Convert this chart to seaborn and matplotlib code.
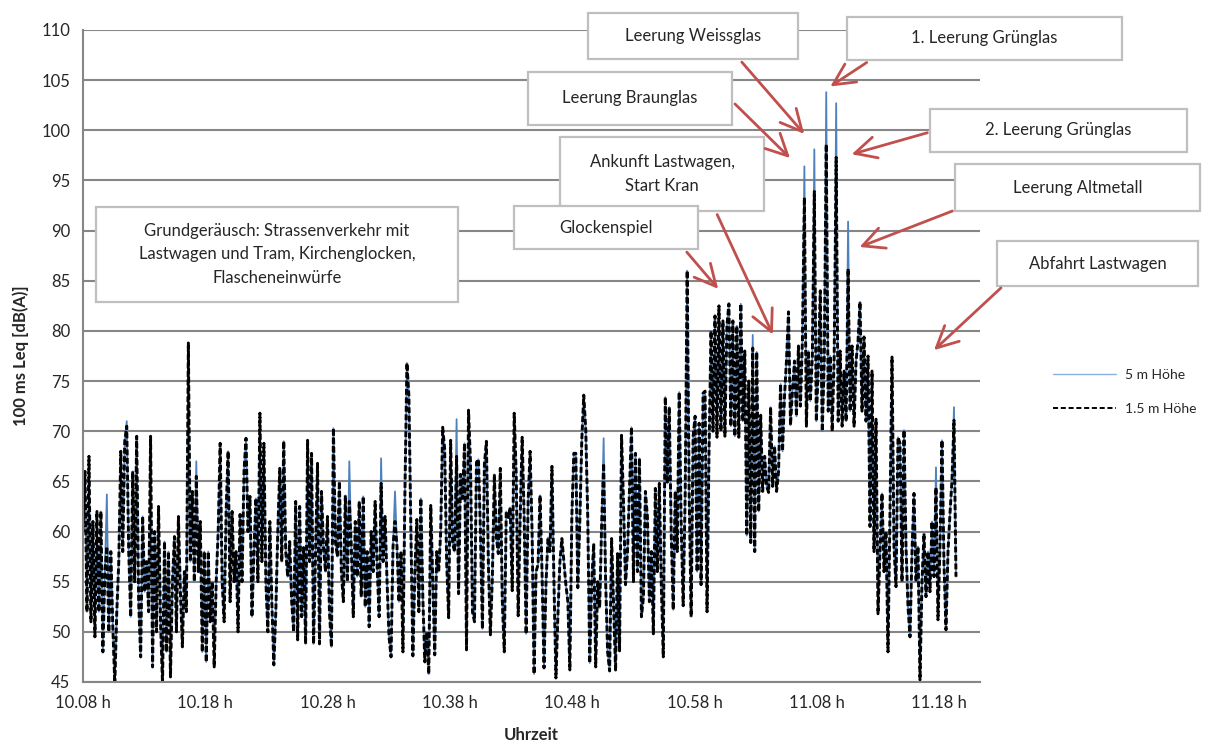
import numpy as np
import matplotlib
matplotlib.use("Agg")
from matplotlib import pyplot as plt
from matplotlib.patches import Rectangle, FancyArrowPatch
import seaborn as sns

grenzen = [8.0, 20.84, 33.51, 46.18, 58.86, 71.53, 79.54]

# 100 ms Leq in 1.5 m Hoehe (dB(A))
pegel_a = [60, 66, 52, 67.5, 51, 61, 49.5, 62, 52, 62, 48, 56, 58.5, 50, 58, 50.5, 44.8, 52, 57, 68,
           58, 69, 70.5, 58, 51.5, 66, 55, 69.5, 53, 47.5, 61.5, 54, 57, 52, 69.5, 46.5, 60, 50, 62.5, 51,
           44.8, 59, 48, 58, 45.5, 55, 59.5, 50, 61.5, 54, 48.5, 56, 52, 78.8, 57, 64, 55, 65.5, 56, 61,
           48, 58, 47, 58, 51, 55, 46.5, 55, 60, 68.8, 55, 51, 62, 68, 53, 62, 55, 58, 50]
pegel_b = [61.7, 55, 66, 69.3, 60, 63.5, 51.5, 58, 63.3, 55, 71.8, 57, 68.8, 55, 50, 61, 53, 46.7, 52, 60,
           66.3, 57, 69, 58, 55.5, 59, 53, 50, 63, 49.2, 62.5, 51.5, 58.4, 48.8, 69.1, 57, 67.8, 48.8, 58, 66.8,
           48.8, 64, 58.5, 56, 61.5, 52, 48.5, 70.3, 59, 57.5, 65, 56, 53, 63.6, 55, 63, 58.5, 51.5, 61, 55.5,
           63, 53.5, 63.5, 52.5, 58, 50.5, 60, 56, 63, 56.5, 51.5, 64.8, 57, 61.5, 55, 49.5, 47.5, 58.5]
pegel_c = [61, 58.5, 53, 58, 48, 64, 76.8, 73.5, 60, 47.6, 56, 61.2, 52, 63.3, 53.5, 47, 50, 45.8, 62.6, 55,
           47.7, 58, 56, 60, 70.4, 68.2, 57, 51.4, 69.1, 58.8, 58, 67.5, 53.8, 65.7, 63.3, 68.8, 48.2, 72.1, 66.8, 52,
           51, 66.9, 67.2, 60, 50.3, 66.7, 69, 56.8, 49.7, 55.4, 65.7, 59.4, 57.8, 66.3, 53.1, 48, 62, 61.4, 62.4, 54.1,
           71.8, 65.7, 51.6, 61.4, 69.4, 61.6, 49.8, 63, 68, 60, 45.8, 56, 56.7, 63.6, 56, 46.4, 54.8, 59.4]
pegel_d = [58, 66.5, 55, 45.4, 51.7, 57, 59.3, 57, 54.7, 53, 46.2, 61.5, 67.8, 67.8, 54.4, 60.9, 69.1, 73.6, 70.1, 61.5,
           46.9, 55, 58.8, 46.5, 55, 52.4, 60.8, 66.8, 55, 48, 46.1, 59.3, 52.6, 46.1, 57.8, 48.1, 69.6, 62.8, 54.7, 58,
           64.1, 70.4, 55, 67.8, 56, 67.3, 51.5, 53.4, 64, 61.5, 53, 58, 49.8, 64.3, 56, 64.8, 54.7, 47.5, 73.4, 64.8,
           72.4, 59.7, 52.2, 64, 58, 73.9, 60.6, 52.6, 63.6, 86, 63.9, 51.5, 69.5, 71.5, 56, 70.8, 54.7, 73.8]
pegel_e = [74, 52, 68, 80, 70, 81.5, 69.4, 82.5, 70, 81, 69.5, 80.5, 82.7, 70.5, 81, 69.5, 80.5, 69.4, 82.7, 71,
           78, 59.6, 75, 58.9, 78.3, 58, 77.9, 62, 71.6, 64, 67.5, 64.5, 63.9, 72.4, 64.5, 68.5, 64, 66, 74.7, 68,
           73.5, 77.1, 81.9, 70.6, 74, 77, 71.5, 78.5, 72.5, 79, 93.3, 70.5, 78, 73, 77.5, 93.9, 71, 76.5, 84, 70,
           77, 98.6, 72, 77.5, 70, 77.5, 97.3, 71, 78, 70.5, 76, 71, 86.2, 72, 78.5, 70.5, 77, 79]
pegel_f = [82.9, 72, 79.4, 71, 77.5, 60.5, 76, 58, 71.2, 51.8, 58, 63.8, 56, 60, 48, 62, 77.4, 58.5, 54.5, 69.4,
           68.8, 55, 70.1, 58.5, 52.5, 49.5, 58, 63.8, 55, 58.5, 45.2, 55, 59.8, 53.5, 58, 54, 61, 55.5, 64.4, 51.2,
           58.5, 69.1, 56.8, 50.2, 58, 61.8, 65.1, 71.1, 55.5]

# Spitzen, bei denen 5 m Hoehe hoeher liegt (Minuten, dB(A))
spitzen_5m_zeit = [10.26, 11.57, 17.35, 30.10, 32.61, 33.65, 38.64, 50.68, 62.81,
                   66.98, 67.88, 68.80, 69.65, 70.58, 77.47, 79.16]
spitzen_5m_wert = [63.7, 71.0, 67.0, 67.0, 67.3, 64.0, 71.2, 69.3, 79.6,
                   96.4, 98.1, 103.8, 102.7, 90.9, 66.4, 72.4]

tick_zeit = [8, 18, 28, 38, 48, 58, 68, 78]
tick_text = ["10.08 h", "10.18 h", "10.28 h", "10.38 h", "10.48 h", "10.58 h", "11.08 h", "11.18 h"]

abschnitte = [pegel_a, pegel_b, pegel_c, pegel_d, pegel_e, pegel_f]
zeit = np.concatenate([np.linspace(grenzen[i], grenzen[i + 1], len(p), endpoint=False)
                       for i, p in enumerate(abschnitte)])
pegel_15 = np.concatenate([np.array(p, dtype=float) for p in abschnitte])
pegel_5 = pegel_15.copy()
for t, v in zip(spitzen_5m_zeit, spitzen_5m_wert):
    idx = np.where(np.abs(zeit - t) < 0.35)[0]
    i = idx[np.argmax(pegel_15[idx])]
    pegel_5[i] = max(v, pegel_5[i])

sns.set_style("white")
plt.rcParams['font.family'] = ['Lato', 'DejaVu Sans']

W, H = 1216, 745
fig = plt.figure(figsize=(W / 100, H / 100), dpi=100)
ax = fig.add_axes([83 / W, 63 / H, 897 / W, 652 / H])

sns.lineplot(x=zeit, y=pegel_5, color='#4F81BD', lw=1.3, label='5 m Höhe', ax=ax,
             estimator=None, sort=False)
sns.lineplot(x=zeit, y=pegel_15, color='black', lw=2.1, linestyle=(0, (2.0, 0.9)),
             label='1.5 m Höhe', ax=ax, estimator=None, sort=False)

ax.set_xlim(8, 81.34)
ax.set_ylim(45, 110)
ax.set_yticks(range(45, 111, 5))
ax.set_xticks(tick_zeit)
ax.set_xticklabels(tick_text)
ax.yaxis.grid(True, color='#868686', lw=1.5)
ax.set_axisbelow(True)
for s in ['top', 'right']:
    ax.spines[s].set_visible(False)
for s in ['left', 'bottom']:
    ax.spines[s].set_color('#868686')
    ax.spines[s].set_linewidth(1.5)
ax.tick_params(direction='out', length=5, width=1.2, color='#868686', labelsize=12, pad=4)
ax.set_xlabel("Uhrzeit", fontsize=12, fontweight='bold', labelpad=12)
ax.set_ylabel("100 ms Leq [dB(A)]", fontsize=12, fontweight='bold', labelpad=9)

leg = ax.legend(loc='upper left', bbox_to_anchor=(1040 / W, 1 - 356 / H), bbox_transform=fig.transFigure,
                frameon=False, fontsize=10, handlelength=4.6, labelspacing=1.6, handletextpad=0.6)
linie_5, linie_15 = leg.get_lines()
linie_5.set_linewidth(1.0)
linie_5.set_color('#8EB0DD')
linie_15.set_linewidth(1.4)
linie_15.set_linestyle((0, (2.6, 1.4)))


def px(x, y):
    return (x / W, 1 - y / H)


# Beschriftungen: Text, Kasten (links, oben, rechts, unten), Pfeil (von, nach)
notizen = [
    ("Grundgeräusch: Strassenverkehr mit\nLastwagen und Tram, Kirchenglocken,\nFlascheneinwürfe",
     (96, 207, 458, 302), None),
    ("Ankunft Lastwagen,\nStart Kran", (560, 137, 764, 211), ((716, 212), (774, 337))),
    ("Glockenspiel", (514, 206, 698, 249), ((685, 250), (720, 291))),
    ("Leerung Braunglas", (528, 72, 732, 125), ((733, 102), (792, 160))),
    ("Leerung Weissglas", (588, 13, 798, 59), ((740, 60), (806, 136))),
    ("1. Leerung Grünglas", (847, 17, 1122, 60), ((869, 61), (828, 88))),
    ("2. Leerung Grünglas", (930, 109, 1187, 152), ((930, 132), (849, 155))),
    ("Leerung Altmetall", (955, 164, 1200, 211), ((955, 210), (857, 248))),
    ("Abfahrt Lastwagen", (997, 241, 1198, 286), ((1003, 286), (932, 352))),
]
for text, (x0, y0, x1, y1), pfeil in notizen:
    fig.add_artist(Rectangle(px(x0, y1), (x1 - x0) / W, (y1 - y0) / H, transform=fig.transFigure,
                             facecolor='white', edgecolor='#BFBFBF', lw=1.6, zorder=3))
    fig.text((x0 + x1) / 2 / W, 1 - (y0 + y1) / 2 / H, text, ha='center', va='center',
             fontsize=12, linespacing=1.55, zorder=4)
    if pfeil is not None:
        fig.add_artist(FancyArrowPatch(px(*pfeil[0]), px(*pfeil[1]), transform=fig.transFigure,
                                       arrowstyle='->,head_length=0.7,head_width=0.35', mutation_scale=22,
                                       color='#C0504D', lw=2, zorder=5))

fig.savefig("out.png", dpi=100)
